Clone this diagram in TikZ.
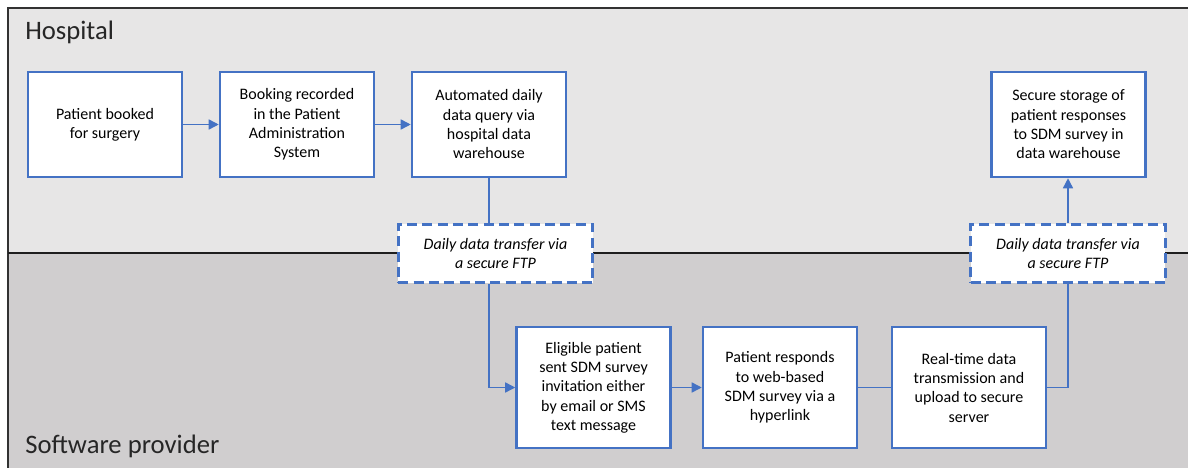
\documentclass[tikz,border=0pt]{standalone}
\usepackage{fontspec}
\setmainfont{Carlito}
\usepackage{tikz}
\usetikzlibrary{arrows.meta}

\begin{document}
\begin{tikzpicture}[x=0.75pt,y=0.75pt,yscale=-1,xscale=1,
	stepbox/.style={draw={rgb, 255:red, 68; green, 114; blue, 196 }, line width=1.9pt, fill=white, minimum width=115.5pt, align=center, inner sep=2pt, font=\fontsize{12}{14.5}\selectfont},
	ftpbox/.style={draw={rgb, 255:red, 68; green, 114; blue, 196 }, line width=2.2pt, dash pattern={on 7.5pt off 4pt}, fill=white, minimum width=146pt, minimum height=44pt, align=center, inner sep=2pt, font=\fontsize{12}{14.5}\selectfont\itshape},
	flow/.style={draw={rgb, 255:red, 68; green, 114; blue, 196 }, line width=1.1pt},
	flowarr/.style={flow, -{Triangle[length=7.5pt,width=7.5pt]}},
	lane/.style={anchor=west, inner sep=0pt, font=\fontsize{20}{24}\selectfont, color={rgb, 255:red, 38; green, 38; blue, 38 }}]
	\useasboundingbox (0,0) rectangle (1190,468);

	%Lanes
	\fill [color={rgb, 255:red, 231; green, 230; blue, 230 }] (8,8) rectangle (1188,253);
	\fill [color={rgb, 255:red, 208; green, 206; blue, 207 }] (8,253) rectangle (1188,468);
	\draw [color={rgb, 255:red, 50; green, 50; blue, 50 }, line width=1.1pt] (8,468) -- (8,8) -- (1188,8);
	\draw [color={rgb, 255:red, 30; green, 30; blue, 30 }, line width=0.8pt] (8,253) -- (1188,253);

	% Text Node
	\node [lane] (hosp) at (25,32) {Hospital};
	% Text Node
	\node [lane] (soft) at (25,446) {Software provider};

	%Hospital steps
	\node [stepbox, minimum height=78.75pt] (booked) at (105,124.5) {Patient booked\\for surgery};
	\node [stepbox, minimum height=78.75pt] (pas) at (297,124.5) {Booking recorded\\in the Patient\\Administration\\System};
	\node [stepbox, minimum height=78.75pt] (query) at (489,124.5) {Automated daily\\data query via\\hospital data\\warehouse};
	\node [stepbox, minimum height=78.75pt] (store) at (1068.5,124.5) {Secure storage of\\patient responses\\to SDM survey in\\data warehouse};

	%Transfers
	\node [ftpbox] (xferout) at (495.5,253.5) {Daily data transfer via\\a secure FTP};
	\node [ftpbox] (xferback) at (1068,253.5) {Daily data transfer via\\a secure FTP};

	%Software provider steps
	\node [stepbox, minimum height=90.75pt] (invite) at (593.5,387.5) {Eligible patient\\sent SDM survey\\invitation either\\by email or SMS\\text message};
	\node [stepbox, minimum height=90.75pt] (respond) at (780,387.5) {Patient responds\\to web-based\\SDM survey via a\\hyperlink};
	\node [stepbox, minimum height=90.75pt] (upload) at (969,387.5) {Real-time data\\transmission and\\upload to secure\\server};

	%Connectors
	\draw [flowarr] (booked) -- (pas);
	\draw [flowarr] (pas) -- (query);
	\draw [flow] (query.south) -- (query.south |- xferout.north);
	\draw [flowarr] (xferout.south -| query.south) |- (invite.west);
	\draw [flowarr] (invite) -- (respond);
	\draw [flow] (respond) -- (upload);
	\draw [flow] (upload.east) -| (xferback.south);
	\draw [flowarr] (xferback.north) -- (xferback.north |- store.south);

\end{tikzpicture}
\end{document}
